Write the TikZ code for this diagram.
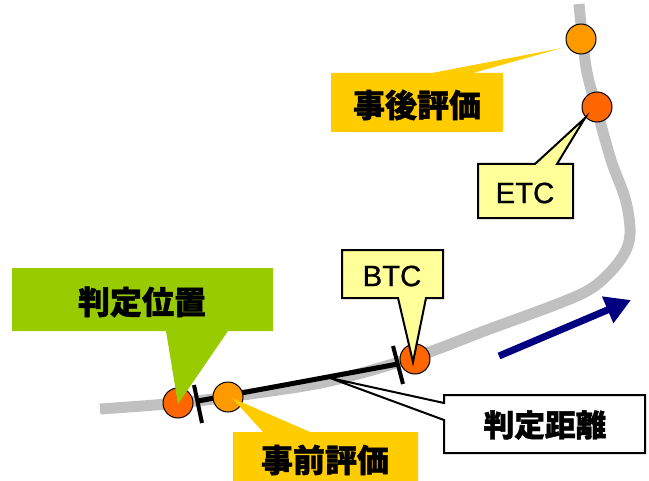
\documentclass[tikz,border=0pt]{standalone}
\usepackage{fontspec}
\setmainfont{Liberation Sans}
\newfontfamily\jp{Noto Sans CJK JP}[BoldFeatures={FakeBold=1.2}]
\newfontfamily\enfont{Liberation Sans}[FakeBold=0.7]
\usetikzlibrary{arrows.meta}
\definecolor{roadgray}{HTML}{C0C0C0}
\definecolor{redorange}{HTML}{FF6600}
\definecolor{lightorange}{HTML}{FF9900}
\definecolor{calloutyellow}{HTML}{FFCC00}
\definecolor{paleyellow}{HTML}{FFFF99}
\definecolor{calloutgreen}{HTML}{99CC00}
\definecolor{arrownavy}{HTML}{000080}
\tikzset{
  roadline/.style={draw=roadgray, line width=8.25pt},
  spot/.style={circle, draw=black, line width=0.75pt, minimum size=22.5pt, inner sep=0pt},
  boxcall/.style={draw=black, line width=1.5pt, line join=miter},
  jptext/.style={font=\jp\bfseries\fontsize{24}{27}\selectfont, inner sep=0pt},
  entext/.style={font=\enfont\fontsize{22}{25}\selectfont, inner sep=0pt},
  tickmark/.style={draw=black, line width=3pt},
}
\begin{document}
\begin{tikzpicture}[x=0.75pt, y=-0.75pt]
\useasboundingbox (0,0) rectangle (649,481);
\clip (0,0) rectangle (649,481);
% road
\draw[roadline] plot[smooth, tension=0.55] coordinates {(100,409) (178,403) (250,394) (330,381) (415,357) (487,330) (560,303) (592,288) (614,268) (627,248) (630,228) (625,198) (611,160) (597,110) (586,67) (579,4)};
% judgement distance segment
\coordinate (segA) at (198,401);
\coordinate (segB) at (398,364);
\draw[black, line width=3.75pt] (segA) -- (segB);
\coordinate (t1a) at (194,385); \coordinate (t1b) at (202,423);
\coordinate (t2a) at (393,346); \coordinate (t2b) at (403,384);
\draw[tickmark] (t1a) -- (t1b);
\draw[tickmark] (t2a) -- (t2b);
% spots
\node[spot, fill=redorange] (c1) at (178,403) {};
\node[spot, fill=lightorange] (c2) at (228,397) {};
\node[spot, fill=redorange] (c3) at (415,359) {};
\node[spot, fill=redorange] (c4) at (597,107) {};
\node[spot, fill=lightorange] (c5) at (581,39) {};
% callout: post evaluation
\fill[calloutyellow] (331,73) -- (432,73) -- (562,48) -- (473,73) -- (503,73) -- (503,132) -- (331,132) -- cycle;
\node[jptext] (post) at (417,105) {事後評価};
% callout: ETC
\filldraw[boxcall, fill=paleyellow] (478,164) -- (535,164) -- (585,118) -- (557,164) -- (573,164) -- (573,218) -- (478,218) -- cycle;
\node[entext] (etc) at (525,193) {ETC};
% callout: judgement position
\fill[calloutgreen] (12,268) -- (273,268) -- (273,331) -- (228,331) -- (178,404) -- (166,331) -- (12,331) -- cycle;
\node[jptext] (pos) at (142,302) {判定位置};
% callout: pre evaluation
\fill[calloutyellow] (233,432) -- (263,432) -- (232,398) -- (310,432) -- (418,432) -- (418,485) -- (233,485) -- cycle;
\node[jptext] (pre) at (325,460) {事前評価};
% callout: BTC
\filldraw[boxcall, fill=paleyellow] (342,250) -- (443,250) -- (443,298) -- (426,298) -- (413,362) -- (398,298) -- (342,298) -- cycle;
\node[entext] (btc) at (392,276) {BTC};
% callout: judgement distance
\filldraw[boxcall, fill=white] (444,395) -- (645,395) -- (645,453) -- (444,453) -- (444,420) -- (330,378) -- (444,403) -- cycle;
\node[jptext, font=\jp\bfseries\fontsize{23}{26}\selectfont] (dist) at (545,425) {判定距離};
% direction arrow
\coordinate (arrS) at (499,356);
\coordinate (arrE) at (631,300);
\draw[arrownavy, line width=5.25pt, -{Triangle[length=19pt, width=20.5pt]}] (arrS) -- (arrE);
\end{tikzpicture}
\end{document}
